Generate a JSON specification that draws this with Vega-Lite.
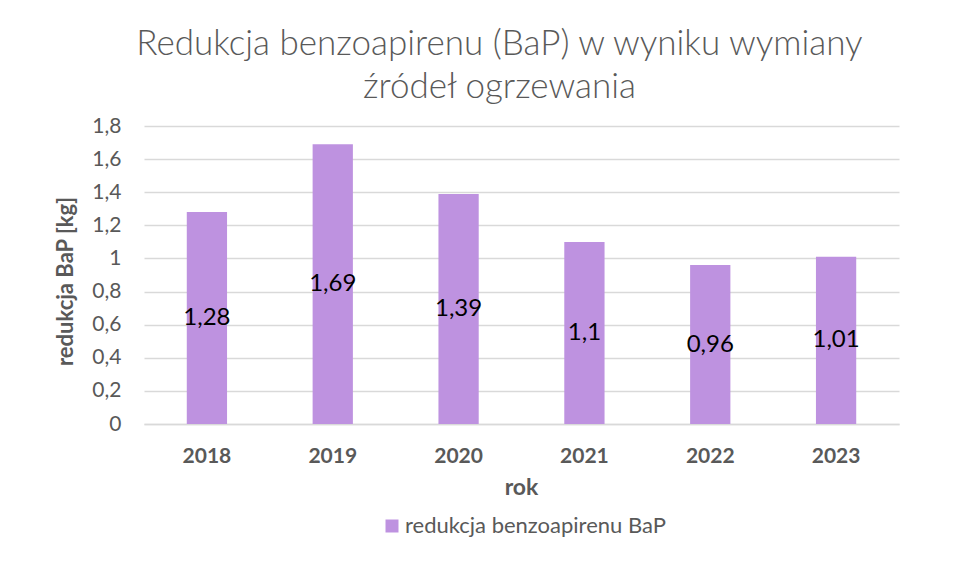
{
  "$schema": "https://vega.github.io/schema/vega-lite/v6.json",
  "autosize": "none",
  "width": 755,
  "height": 298,
  "padding": {"left": 144, "top": 126, "right": 62, "bottom": 163},
  "background": "white",
  "config": {
    "locale": {"number": {"decimal": ",", "thousands": " ", "grouping": [3], "currency": ["", " zł"]}},
    "view": {"stroke": null},
    "font": "Lato"
  },
  "title": {
    "text": ["Redukcja benzoapirenu (BaP) w wyniku wymiany", "źródeł ogrzewania"],
    "font": "Lato",
    "fontSize": 35,
    "fontWeight": 300,
    "color": "#595959",
    "anchor": "middle",
    "frame": "group",
    "dx": -22,
    "offset": 10,
    "lineHeight": 43
  },
  "data": {
    "values": [
      {"rok": "2018", "v": 1.28},
      {"rok": "2019", "v": 1.69},
      {"rok": "2020", "v": 1.39},
      {"rok": "2021", "v": 1.1},
      {"rok": "2022", "v": 0.96},
      {"rok": "2023", "v": 1.01}
    ]
  },
  "layer": [
    {
      "mark": {"type": "bar", "color": "#BE92E0"},
      "encoding": {
        "x": {
          "field": "rok", "type": "nominal",
          "scale": {"paddingInner": 0.68, "paddingOuter": 0.34},
          "axis": {
            "title": "rok",
            "titleFont": "Lato", "titleFontSize": 23, "titleFontWeight": "bold", "titleColor": "#595959",
            "titleX": 377, "titleY": 63, "titleBaseline": "middle", "titleAnchor": null, "titleAlign": "center",
            "labelFont": "Lato", "labelFontSize": 21, "labelFontWeight": "bold", "labelColor": "#595959",
            "labelAngle": 0, "labelPadding": 21, "ticks": false,
            "domainColor": "#D9D9D9", "domainWidth": 1.5, "grid": false
          }
        },
        "y": {
          "field": "v", "type": "quantitative",
          "scale": {"domain": [0, 1.8], "nice": false},
          "axis": {
            "title": "redukcja BaP [kg]",
            "values": [0, 0.2, 0.4, 0.6, 0.8, 1, 1.2, 1.4, 1.6, 1.8],
            "format": ".1~f",
            "titleFont": "Lato", "titleFontSize": 22, "titleFontWeight": "bold", "titleColor": "#595959",
            "titleX": -79, "titleY": 155, "titleAngle": -90, "titleAlign": "center", "titleBaseline": "middle", "titleAnchor": null,
            "labelFont": "Lato", "labelFontSize": 21, "labelColor": "#595959", "labelPadding": 23,
            "ticks": false, "domain": false,
            "gridColor": "#D9D9D9", "gridWidth": 1.5
          }
        },
        "color": {
          "datum": "redukcja benzoapirenu BaP",
          "type": "nominal",
          "scale": {"range": ["#BE92E0"]},
          "legend": {
            "title": null, "orient": "none", "legendX": 237, "legendY": 389,
            "symbolType": "square", "symbolSize": 169, "symbolStrokeWidth": 0,
            "labelFont": "Lato", "labelFontSize": 22, "labelColor": "#595959", "labelOffset": 2, "labelLimit": 0, "padding": 0
          }
        }
      }
    },
    {
      "mark": {"type": "text", "color": "black", "fontSize": 24, "font": "Lato", "baseline": "middle"},
      "encoding": {
        "x": {"field": "rok", "type": "nominal"},
        "y": {"field": "v", "type": "quantitative", "scale": {"domain": [0, 3.6], "nice": false}, "axis": null},
        "text": {"field": "v", "type": "quantitative", "format": ".2~f"}
      }
    }
  ],
  "resolve": {"scale": {"y": "independent"}}
}
